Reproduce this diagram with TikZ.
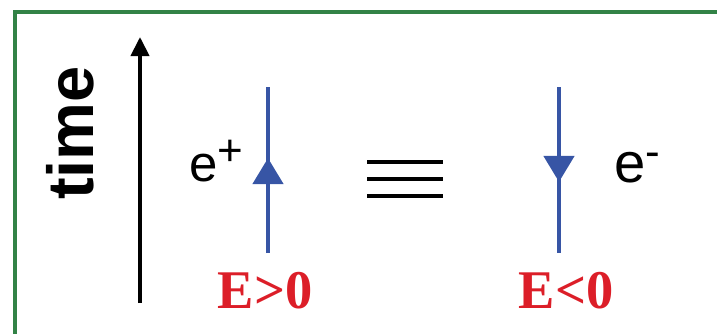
\documentclass[tikz,border=0pt]{standalone}
\usepackage{fontspec}
\setmainfont{Liberation Sans}
\newfontfamily\timesfont{Liberation Serif}
\usetikzlibrary{arrows.meta,decorations.markings}
\definecolor{framegreen}{RGB}{50,130,70}
\definecolor{lineblue}{RGB}{55,85,165}
\definecolor{energyred}{RGB}{220,30,40}

\begin{document}
\begin{tikzpicture}[
	axislabel/.style={ rotate=90, font=\fontsize{37}{37}\selectfont\bfseries },
	particle/.style={ anchor=base, inner sep=0pt },
	energy/.style={ anchor=base, inner sep=0pt, text=energyred, font=\timesfont\fontsize{31}{31}\selectfont\bfseries },
	worldline/.style={ lineblue, line width=2.6pt },
	midarrow/.style={ postaction={decorate}, decoration={markings, mark=at position 0.572 with {\arrow{Triangle[width=0.6cm,length=0.52cm]}}} }
]

\useasboundingbox (0,0) rectangle (14.34,6.66);
\clip (0,0) rectangle (14.34,6.66);
\draw[framegreen, line width=2.2pt] (0.30,-0.5) -- (0.30,6.42) -- (14.8,6.42);

% time axis
\coordinate (t0) at (2.80,0.60);
\coordinate (t1) at (2.80,5.92);
\draw[line width=2.3pt, -{Triangle[width=0.36cm,length=0.38cm]}] (t0) -- (t1);
\node at (1.40,4.00) (time) [axislabel] {time};

% positron, E>0
\coordinate (p0) at (5.36,1.60);
\coordinate (p1) at (5.36,4.92);
\draw[worldline, midarrow] (p0) -- (p1);
\node at (4.33,3.04) (pos) [particle] {\fontsize{29}{29}\selectfont e\textsuperscript{\fontsize{25}{25}\selectfont +}};
\node at (5.30,0.50) (epos) [energy] {E>0};

% equivalence
\foreach \y in {3.42,3.08,2.74}
	\draw[line width=2.6pt] (7.34,\y) -- (8.86,\y);

% electron, E<0
\coordinate (n0) at (11.18,4.92);
\coordinate (n1) at (11.18,1.60);
\draw[worldline, midarrow] (n0) -- (n1);
\node at (12.75,3.02) (ele) [particle] {\fontsize{32}{32}\selectfont e\textsuperscript{\fontsize{25}{25}\selectfont -}};
\node at (11.32,0.50) (eneg) [energy] {E<0};

\end{tikzpicture}
\end{document}
